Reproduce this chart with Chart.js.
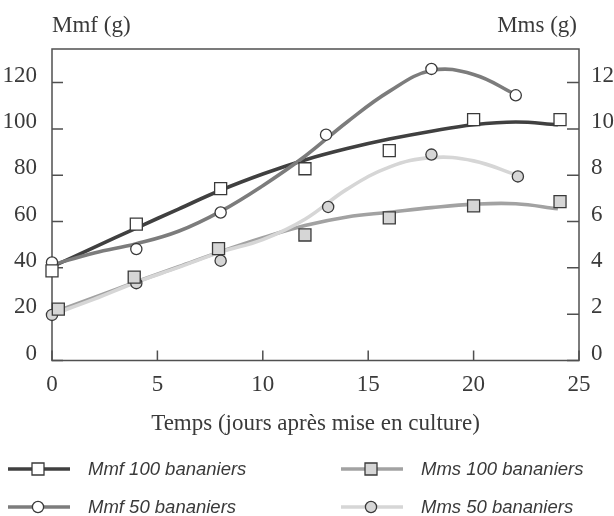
<!DOCTYPE html>
<html lang="fr">
<head>
  <meta charset="UTF-8">
  <title>Mmf / Mms bananiers</title>
  <style>
    html, body { margin: 0; padding: 0; background: #fff; }
    canvas { display: block; }
  </style>
  <script src="https://cdn.jsdelivr.net/npm/chart.js"></script>
</head>
<body>
  <canvas id="chart" width="614" height="516"></canvas>

  <script>
    const daysMmf100 = [0, 4, 8, 12, 16, 20, 24.1];
    const mmf100 = [38.7, 58.9, 74.2, 82.8, 90.6, 104, 104];
    const daysMmf50 = [0, 4, 8, 13, 18, 22];
    const mmf50 = [42.3, 48.1, 63.9, 97.5, 125.9, 114.5];
    const daysMms100 = [0.3, 3.9, 7.9, 12, 16, 20, 24.1];
    const mms100 = [2.22, 3.6, 4.83, 5.42, 6.16, 6.68, 6.86];
    const daysMms50 = [0, 4, 8, 13.1, 18, 22.1];
    const mms50 = [1.97, 3.34, 4.31, 6.63, 8.89, 7.95];

    // courbes d'ajustement
    const fitDaysMmf100 = [0, 2, 4, 6, 8, 10, 12, 14, 16, 18, 20, 22, 24];
    const fitMmf100 = [40.5, 48.8, 57.2, 65.4, 73.5, 80.5, 86.6, 91.5, 95.6, 99, 101.8, 103, 101.8];
    const fitDaysMmf50 = [0, 2, 4, 6, 8, 10, 12, 14, 16, 18, 20, 22];
    const fitMmf50 = [41.3, 46.4, 50.4, 55.8, 64.4, 75.5, 88.2, 103, 116.2, 125.2, 123.5, 114.8];
    const fitDaysMms100 = [0, 2, 4, 6, 8, 10, 12, 14, 16, 18, 20, 22, 24];
    const fitMms100 = [2.05, 2.72, 3.4, 4.05, 4.7, 5.3, 5.83, 6.2, 6.4, 6.6, 6.75, 6.77, 6.55];
    const fitDaysMms50 = [0, 2, 4, 6, 8, 10, 12, 14, 16, 18, 20, 22];
    const fitMms50 = [1.98, 2.65, 3.38, 4.02, 4.68, 5.22, 6.1, 7.4, 8.35, 8.76, 8.62, 8.02];

    const labels = ['Mmf 100 bananiers', 'Mmf 50 bananiers', 'Mms 100 bananiers', 'Mms 50 bananiers'];
    const xTitle = 'Temps (jours après mise en culture)';
    const leftTitle = 'Mmf (g)';
    const rightTitle = 'Mms (g)';

    const xy = (xs, ys) => xs.map((x, i) => ({ x: x, y: ys[i] }));

    const ink = '#3a3a3a';
    const curveColors = ['#404040', '#7c7c7c', '#a2a2a2', '#d6d6d6'];
    const markerFill = ['#ffffff', '#ffffff', '#d6d6d6', '#d6d6d6'];
    const markerStyle = ['rect', 'circle', 'rect', 'circle'];
    const markerRadius = [8.5, 5.6, 8.5, 5.6];

    function curve(data, i, axis) {
      return {
        label: labels[i] + ' (ajustement)',
        data: data,
        yAxisID: axis,
        showLine: true,
        borderColor: curveColors[i],
        borderWidth: 3.6,
        pointRadius: 0,
        tension: 0.4,
        order: 2
      };
    }

    function marks(data, i, axis) {
      return {
        label: labels[i],
        data: data,
        yAxisID: axis,
        showLine: false,
        clip: false,
        pointStyle: markerStyle[i],
        pointRadius: markerRadius[i],
        pointBackgroundColor: markerFill[i],
        pointBorderColor: ink,
        pointBorderWidth: 1.3,
        order: 1
      };
    }

    const datasets = [
      curve(xy(fitDaysMms50, fitMms50), 3, 'y2'),
      curve(xy(fitDaysMms100, fitMms100), 2, 'y2'),
      curve(xy(fitDaysMmf50, fitMmf50), 1, 'y'),
      curve(xy(fitDaysMmf100, fitMmf100), 0, 'y'),
      marks(xy(daysMmf100, mmf100), 0, 'y'),
      marks(xy(daysMmf50, mmf50), 1, 'y'),
      marks(xy(daysMms100, mms100), 2, 'y2'),
      marks(xy(daysMms50, mms50), 3, 'y2')
    ];

    // cadre, graduations intérieures, titres des axes y et légende
    const decor = {
      id: 'decor',
      beforeDatasetsDraw(chart) {
        const { ctx, chartArea: a, scales } = chart;
        ctx.save();
        ctx.strokeStyle = '#505050';
        ctx.lineWidth = 1.5;
        ctx.strokeRect(a.left, a.top, a.right - a.left, a.bottom - a.top);

        ctx.beginPath();
        scales.y.ticks.forEach(t => {
          const p = scales.y.getPixelForValue(t.value);
          ctx.moveTo(a.left, p); ctx.lineTo(a.left + 11, p);
        });
        scales.y2.ticks.forEach(t => {
          const p = scales.y2.getPixelForValue(t.value);
          ctx.moveTo(a.right, p); ctx.lineTo(a.right - 12, p);
        });
        scales.x.ticks.forEach(t => {
          const p = scales.x.getPixelForValue(t.value);
          ctx.moveTo(p, a.bottom); ctx.lineTo(p, a.bottom - 10);
        });
        ctx.stroke();
        ctx.restore();
      },
      afterDraw(chart) {
        const { ctx, chartArea: a } = chart;
        ctx.save();
        ctx.fillStyle = ink;
        ctx.font = '23px "Liberation Serif"';
        ctx.textBaseline = 'alphabetic';
        ctx.textAlign = 'left';
        ctx.fillText(leftTitle, a.left, 32);
        ctx.textAlign = 'right';
        ctx.fillText(rightTitle, a.right - 2, 32);

        // légende sur deux colonnes
        const marker = chart.data.datasets.filter(d => !d.showLine);
        const cols = [8, 341];
        const rows = [469, 507];
        marker.forEach((d, k) => {
          const ci = labels.indexOf(d.label);
          const x0 = cols[Math.floor(k / 2)];
          const y0 = rows[k % 2];
          ctx.strokeStyle = curveColors[ci];
          ctx.lineWidth = 3.6;
          ctx.beginPath();
          ctx.moveTo(x0, y0); ctx.lineTo(x0 + 62, y0);
          ctx.stroke();
          ctx.fillStyle = d.pointBackgroundColor;
          ctx.strokeStyle = ink;
          ctx.lineWidth = 1.3;
          ctx.beginPath();
          if (d.pointStyle === 'rect') {
            ctx.rect(x0 + 30 - 6, y0 - 6, 12, 12);
          } else {
            ctx.arc(x0 + 30, y0, 5.6, 0, Math.PI * 2);
          }
          ctx.fill();
          ctx.stroke();
          ctx.fillStyle = ink;
          ctx.font = 'italic 18.5px "Liberation Sans"';
          ctx.textAlign = 'left';
          ctx.textBaseline = 'middle';
          ctx.fillText(d.label, x0 + 80, y0 + 1);
        });
        ctx.restore();
      }
    };

    Chart.defaults.font.family = '"Liberation Serif", serif';
    Chart.defaults.font.size = 23;
    Chart.defaults.color = ink;

    new Chart(document.getElementById('chart'), {
      type: 'scatter',
      data: { datasets: datasets },
      options: {
        responsive: false,
        animation: false,
        layout: { autoPadding: false, padding: { top: 49, left: 0, right: 0, bottom: 75.5 } },
        plugins: { legend: { display: false }, tooltip: { enabled: false } },
        scales: {
          x: {
            type: 'linear',
            min: 0,
            max: 25,
            ticks: { stepSize: 5, padding: 11, includeBounds: false },
            grid: { display: false, drawTicks: false },
            border: { display: false },
            title: { display: true, text: xTitle, padding: { top: 0, bottom: 3 } },
            afterFit: s => { s.height = 80; }
          },
          y: {
            position: 'left',
            min: 0,
            max: 134.5,
            ticks: { stepSize: 20, padding: 15, labelOffset: -7, includeBounds: false },
            grid: { display: false, drawTicks: false },
            border: { display: false },
            afterFit: s => { s.width = 52; }
          },
          y2: {
            position: 'right',
            min: 0,
            max: 13.45,
            ticks: { stepSize: 2, padding: 12, labelOffset: -7, includeBounds: false },
            grid: { display: false, drawTicks: false },
            border: { display: false },
            afterFit: s => { s.width = 35; }
          }
        }
      },
      plugins: [decor]
    });
  </script>
</body>
</html>
